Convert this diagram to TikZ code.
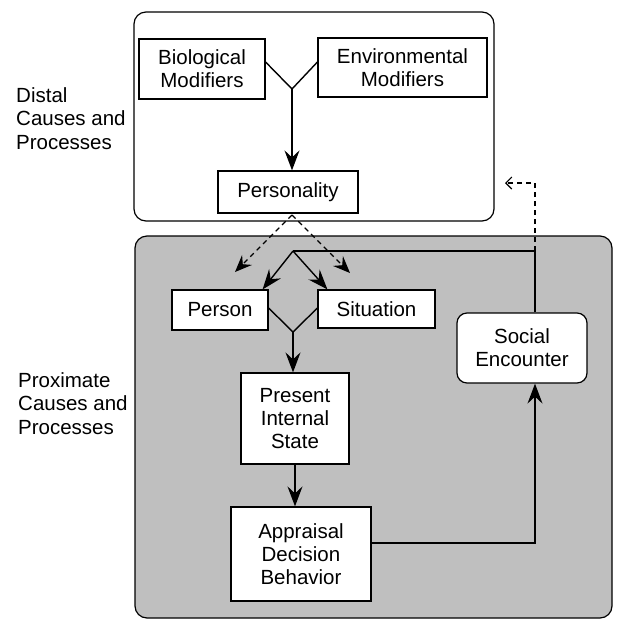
\documentclass[tikz,border=0pt]{standalone}
\usepackage{fontspec}
\setmainfont{Liberation Sans}
\usetikzlibrary{arrows.meta}
\tikzset{
  box/.style={draw, line width=1.2pt, fill=white, align=center, inner sep=0pt, font=\fontsize{20.5}{23}\selectfont},
  lbl/.style={align=left, inner sep=0pt, anchor=north west, font=\fontsize{20.5}{23.5}\selectfont},
  wire/.style={line width=1.4pt},
  conn/.style={line width=1.4pt, -{Stealth[length=20pt,width=15pt,inset=7pt]}},
  dconn/.style={line width=1.1pt, dash pattern=on 5pt off 4pt, -{Stealth[length=17pt,width=14pt,inset=6pt]}}
}
\begin{document}
\begin{tikzpicture}[x=1pt,y=-1pt]
\useasboundingbox (0,0) rectangle (617,622);

\draw[rounded corners=12pt, line width=1.2pt] (134,12) rectangle (494,221);
\draw[rounded corners=12pt, line width=1.2pt, fill=black!25] (135,236) rectangle (612,618);

\node[lbl] (distal) at (16,87) {Distal\\Causes and\\Processes};
\node[lbl] (proximate) at (18,372) {Proximate\\Causes and\\Processes};

\node[box, minimum width=126pt, minimum height=60pt] (bio) at (202,69) {Biological\\Modifiers};
\node[box, minimum width=169pt, minimum height=59pt] (env) at (402.5,67.5) {Environmental\\Modifiers};
\node[box, minimum width=140pt, minimum height=42pt] (pers) at (288,192) {Personality};
\node[box, minimum width=96pt, minimum height=40pt] (person) at (220,310) {Person};
\node[box, minimum width=117pt, minimum height=38pt] (sit) at (376.5,309) {Situation};
\node[box, minimum width=108pt, minimum height=91pt] (state) at (295,418.5) {Present\\Internal\\State};
\node[box, minimum width=140pt, minimum height=94pt] (appr) at (301,554) {Appraisal\\Decision\\Behavior};
\node[box, rounded corners=10pt, minimum width=130pt, minimum height=70pt] (social) at (522,348) {Social\\Encounter};

\coordinate (yj) at (292,89);
\coordinate (dp) at (292,215);
\coordinate (dtipa) at (235,272);
\coordinate (dtipb) at (350,273);
\coordinate (top) at (293,251);
\coordinate (rt) at (535,251);
\coordinate (vj) at (293,332);
\coordinate (dtop) at (535,183);
\coordinate (dend) at (505,183);

\draw[wire] ([yshift=7pt]bio.east) -- (yj) -- ([yshift=5.5pt]env.west);
\draw[conn] (yj) -- (yj |- pers.north);

\draw[dconn] (dp) -- (dtipa);
\draw[dconn] (dp) -- (dtipb);

\draw[wire] (rt |- social.north) -- (rt) -- (top);
\draw[conn] (top) -- ([xshift=-6pt]person.north east);
\draw[conn] (top) -- ([xshift=10pt]sit.north west);

\draw[wire] ([yshift=2pt]person.east) -- (vj) -- ([yshift=1pt]sit.west);
\draw[conn] (vj) -- (vj |- state.north);
\draw[conn] (state.south) -- (state.south |- appr.north);
\draw[conn] ([yshift=11pt]appr.east) -| (rt |- social.south);

\draw[line width=1.1pt, dash pattern=on 5pt off 4pt, -{Straight Barb[length=6pt,width=12pt]}] (rt) -- (dtop) -- (dend);
\end{tikzpicture}
\end{document}
